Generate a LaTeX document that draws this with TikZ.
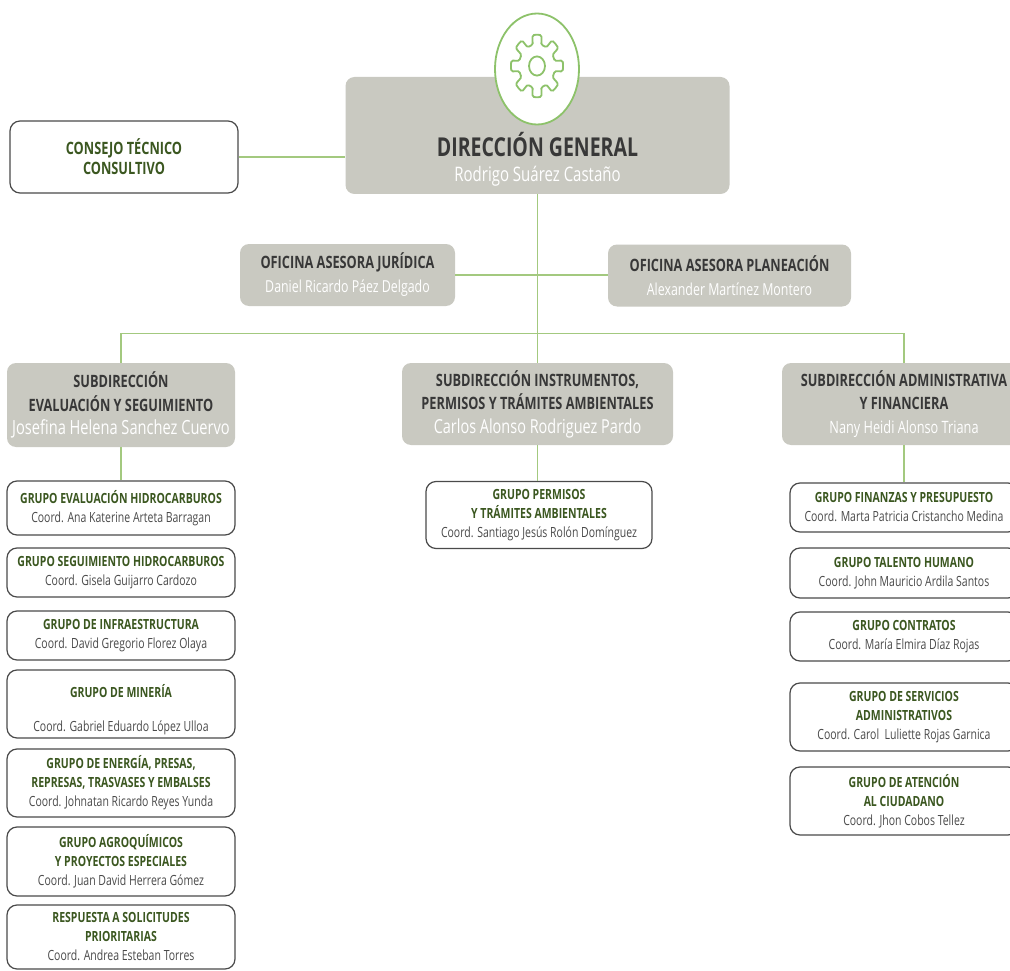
\documentclass[tikz,border=0pt]{standalone}
\usepackage{fontspec}
\setmainfont{Open Sans}[FakeStretch=0.75]
\usepackage{tikz}
\usetikzlibrary{shapes.geometric}   % ellipse round the gear

\definecolor{boxgray}{HTML}{C9C9C1}
\definecolor{linegreen}{HTML}{A3C97F}
\definecolor{geargreen}{HTML}{8DC26A}
\definecolor{grpgreen}{HTML}{3B5720}
\definecolor{headgray}{HTML}{383838}
\definecolor{coordgray}{HTML}{4A4A4A}
\definecolor{edgegray}{HTML}{4A4A4A}

\newcommand{\nametxt}[1]{{\mdseries\color{white}#1}}
\newcommand{\coordtxt}[1]{{\mdseries\fontsize{14}{19}\selectfont\color{coordgray}#1}}

\tikzset{
  link/.style={draw=linegreen, line width=1.1pt},
  graybox/.style={fill=boxgray, rounded corners=9pt, align=center, inner sep=0pt,
                  text=headgray},
  whitebox/.style={draw=edgegray, fill=white, line width=1.2pt, rounded corners=10pt,
                   align=center, inner sep=0pt, text=grpgreen},
  grpbox/.style={whitebox, minimum width=228pt,
                 font=\fontsize{14}{19}\selectfont\bfseries},
  subbox/.style={graybox, minimum height=82pt,
                 font=\fontsize{17}{23.5}\selectfont\bfseries},
  offbox/.style={graybox, minimum height=62pt,
                 font=\fontsize{17}{24}\selectfont\bfseries},
  gearline/.style={draw=geargreen, line width=1.8pt}
}

\begin{document}
\begin{tikzpicture}[x=1pt, y=-1pt]
  \useasboundingbox (0,0) rectangle (1010,971);
  \fill[white] (0,0) rectangle (1010,971);
  \clip (0,0) rectangle (1010,971);

  % top level
  \node[graybox, minimum width=384pt, minimum height=117pt] (dir) at (537.5,135.5) {};
  \node[ellipse, draw=geargreen, fill=white, line width=1.8pt,
        minimum width=84pt, minimum height=111pt] (gear) at (537,69) {};
  \begin{scope}[shift={(537,66)}, yscale=1.2]
    \draw[gearline, rounded corners=1.5pt] (-14:18)
      \foreach \a in {0,45,...,315}
      { -- (\a-10:26) arc[start angle=\a-10, end angle=\a+10, radius=26]
        -- (\a+14:18) arc[start angle=\a+14, end angle=\a+31, radius=18] }
      -- cycle;
    \draw[gearline] (0,0) circle[radius=8];
  \end{scope}
  \node[align=center, text=headgray, font=\fontsize{26}{25}\selectfont\bfseries]
    (dirtxt) at (537.5,159) {DIRECCIÓN GENERAL\\
    \nametxt{\fontsize{20}{25}\selectfont Rodrigo Suárez Castaño}};

  \node[whitebox, minimum width=228pt, minimum height=72pt,
        font=\fontsize{17}{20}\selectfont\bfseries] (cons) at (124,157)
    {CONSEJO TÉCNICO\\CONSULTIVO};

  % advisory offices
  \node[offbox, minimum width=215pt] (jur) at (347.5,275)
    {OFICINA ASESORA JURÍDICA\\\nametxt{\fontsize{16.5}{24}\selectfont Daniel Ricardo Páez Delgado}};
  \node[offbox, minimum width=243pt] (plan) at (729.5,275.5)
    {OFICINA ASESORA PLANEACIÓN\\\nametxt{\fontsize{16.5}{24}\selectfont Alexander Martínez Montero}};

  % subdirections
  \node[subbox, minimum width=228pt, minimum height=84pt] (sev) at (121,405)
    {SUBDIRECCIÓN\\EVALUACIÓN Y SEGUIMIENTO\\
     \nametxt{\fontsize{19.5}{23.5}\selectfont Josefina Helena Sanchez Cuervo}};
  \node[subbox, minimum width=271pt] (sin) at (537.5,404)
    {SUBDIRECCIÓN INSTRUMENTOS,\\PERMISOS Y TRÁMITES AMBIENTALES\\
     \nametxt{\fontsize{19.3}{23.5}\selectfont Carlos Alonso Rodriguez Pardo}};
  \node[subbox, minimum width=244pt] (sad) at (904,404)
    {SUBDIRECCIÓN ADMINISTRATIVA\\Y FINANCIERA\\\nametxt{Nany Heidi Alonso Triana}};

  % groups, left column
  \node[grpbox, minimum height=54pt] (g1) at (121,508)
    {GRUPO EVALUACIÓN HIDROCARBUROS\\\coordtxt{Coord. Ana Katerine Arteta Barragan}};
  \node[grpbox, minimum height=49pt] (g2) at (121,572.5)
    {GRUPO SEGUIMIENTO HIDROCARBUROS\\\coordtxt{Coord. Gisela Guijarro Cardozo}};
  \node[grpbox, minimum height=49pt] (g3) at (121,635.5)
    {GRUPO DE INFRAESTRUCTURA\\\coordtxt{Coord. David Gregorio Florez Olaya}};
  \node[grpbox, minimum height=68pt] (g4) at (121,704)
    {\rule{0pt}{24pt}GRUPO DE MINERÍA\\[15pt]\coordtxt{Coord. Gabriel Eduardo López Ulloa}};
  \node[grpbox, minimum height=68pt] (g5) at (121,783)
    {GRUPO DE ENERGÍA, PRESAS,\\REPRESAS, TRASVASES Y EMBALSES\\\coordtxt{Coord. Johnatan Ricardo Reyes Yunda}};
  \node[grpbox, minimum height=69pt] (g6) at (121,861.5)
    {GRUPO AGROQUÍMICOS\\Y PROYECTOS ESPECIALES\\\coordtxt{Coord. Juan David Herrera Gómez}};
  \node[grpbox, minimum height=64pt] (g7) at (121,937)
    {RESPUESTA A SOLICITUDES\\PRIORITARIAS\\\coordtxt{Coord. Andrea Esteban Torres}};

  % groups, middle column
  \node[grpbox, minimum width=226pt, minimum height=67pt] (p1) at (539,515)
    {GRUPO PERMISOS\\Y TRÁMITES AMBIENTALES\\\coordtxt{Coord. Santiago Jesús Rolón Domínguez}};

  % groups, right column
  \node[grpbox, minimum height=49pt] (r1) at (904,507.5)
    {GRUPO FINANZAS Y PRESUPUESTO\\\coordtxt{Coord. Marta Patricia Cristancho Medina}};
  \node[grpbox, minimum height=50pt] (r2) at (904,573)
    {GRUPO TALENTO HUMANO\\\coordtxt{Coord. John Mauricio Ardila Santos}};
  \node[grpbox, minimum height=49pt] (r3) at (904,636.5)
    {GRUPO CONTRATOS\\\coordtxt{Coord. María Elmira Díaz Rojas}};
  \node[grpbox, minimum height=68pt] (r4) at (904,717)
    {GRUPO DE SERVICIOS\\ADMINISTRATIVOS\\\coordtxt{Coord. Carol~ Luliette Rojas Garnica}};
  \node[grpbox, minimum height=68pt] (r5) at (904,801)
    {GRUPO DE ATENCIÓN\\AL CIUDADANO\\\coordtxt{Coord. Jhon Cobos Tellez}};

  % connectors
  \draw[link] (cons.east) -- (cons.east -| dir.west);
  \draw[link] (dir.south) -- (sin.north);
  \draw[link] (jur.east) -- (jur.east -| plan.west);
  \draw[link] (sev.north) -- ++(0,-29) -| (sad.north);
  \draw[link] (sev.south) -- (g1.north);
  \draw[link] (sin.south) -- (sin.south |- p1.north);
  \draw[link] (sad.south) -- (r1.north);
\end{tikzpicture}
\end{document}
